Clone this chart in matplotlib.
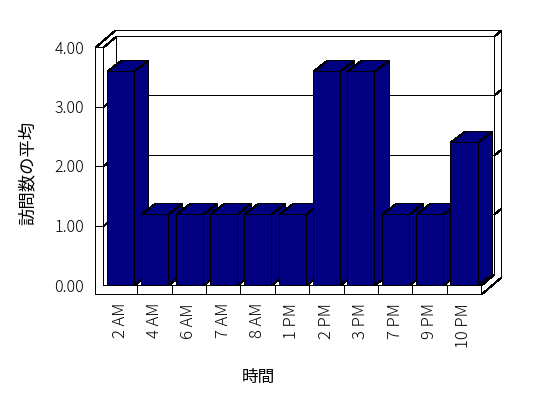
import matplotlib
matplotlib.use("Agg")
import matplotlib.pyplot as plt
from matplotlib.patches import Polygon

categories = ["2 AM", "4 AM", "6 AM", "7 AM", "8 AM", "1 PM", "2 PM", "3 PM", "7 PM", "9 PM", "10 PM"]
values = [3.6, 1.2, 1.2, 1.2, 1.2, 1.2, 3.6, 3.6, 1.2, 1.2, 2.4]
yticks = [0, 1, 2, 3, 4]
ytick_labels = ["0.00", "1.00", "2.00", "3.00", "4.00"]
ylabel = "訪問数の平均"
xlabel = "時間"

plt.rcParams['font.family'] = ['Noto Sans CJK JP', 'DejaVu Sans']
plt.rcParams['font.weight'] = 'light'

W, H = 548, 398
fig = plt.figure(figsize=(W / 100, H / 100), dpi=100)
fig.patch.set_facecolor("white")
ax = fig.add_axes([103 / W, 1 - 285 / H, 378 / W, 238 / H])
n = len(categories)
ymax = yticks[-1]
ax.set_xlim(0, n)
ax.set_ylim(0, ymax)
ax.patch.set_visible(False)
for s in ax.spines.values():
    s.set_visible(False)

# pseudo-3D geometry (data units)
DX, DY = 0.39, 0.185      # depth of plot box
ODX, ODY = 0.57, 0.29     # outer depth incl. wall thickness
LW = 0.233                # left wall thickness
FT = 0.151                # floor thickness
BO, BW = 0.11, 0.79       # bar offset / width in category
BDX, BDY = 0.41, 0.185    # bar depth

lw = 0.72
navy = "#000080"
kw = dict(clip_on=False, antialiased=False, snap=True)

# outline
outline = [(-LW, -FT), (-LW, ymax), (-LW + ODX, ymax + ODY), (n + ODX, ymax + ODY),
           (n + ODX, -FT + ODY), (n, -FT)]
ax.add_patch(Polygon(outline, closed=True, facecolor="white", edgecolor="black", lw=lw, zorder=1, **kw))

def line(pts, z=2):
    xs, ys = zip(*pts)
    ax.plot(xs, ys, color="black", lw=lw, zorder=z, solid_capstyle="butt", **kw)

line([(0, ymax), (0, 0), (n, 0), (n, -FT)])
line([(-LW, ymax), (0, ymax), (DX, ymax + DY), (n + DX, ymax + DY), (n + ODX, ymax + ODY)])
line([(DX, ymax + DY), (DX, DY), (n + DX, DY), (n + DX, ymax + DY)])
line([(n, 0), (n + DX, DY)])
for i in range(1, n):
    line([(i, 0), (i, -FT)])
for v in yticks[1:-1]:
    line([(-LW, v), (0, v), (DX, v + DY), (n + DX, v + DY), (n + ODX, v + ODY)])

# bars
for i, v in enumerate(values):
    x0 = i + BO
    x1 = x0 + BW
    z = 3 + i
    side = [(x1, 0), (x1 + BDX, BDY), (x1 + BDX, v + BDY), (x1, v)]
    top = [(x0, v), (x1, v), (x1 + BDX, v + BDY), (x0 + BDX, v + BDY)]
    front = [(x0, 0), (x1, 0), (x1, v), (x0, v)]
    for poly in (side, top, front):
        ax.add_patch(Polygon(poly, closed=True, facecolor=navy, edgecolor="black", lw=lw, zorder=z, **kw))

ax.set_yticks(yticks)
ax.set_yticklabels(ytick_labels)
ax.set_xticks([i + 0.5 for i in range(n)])
ax.set_xticklabels(categories, rotation=90)
ax.tick_params(axis="y", length=0, pad=13.5, labelsize=11.5)
ax.tick_params(axis="x", length=0, pad=13, labelsize=12)

ax.set_ylabel(ylabel, fontsize=12.5)
ax.yaxis.set_label_coords(-0.198, 0.47)
ax.set_xlabel(xlabel, fontsize=12)
ax.xaxis.set_label_coords(0.41, -0.39)
ax.xaxis.label.set_verticalalignment("center")
ax.yaxis.label.set_verticalalignment("center")

fig.savefig("out.png", dpi=100, facecolor="white")
